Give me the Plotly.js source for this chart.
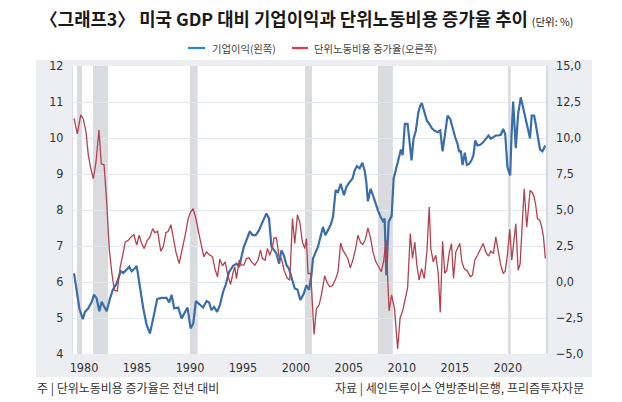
<!DOCTYPE html>
<html>
<head>
<meta charset="utf-8">
<script src="https://cdn.plot.ly/plotly-3.0.1.min.js"></script>
<style>
  html, body { margin: 0; padding: 0; background: #ffffff; }
  #chart { width: 622px; height: 402px; }
</style>
</head>
<body>
<div id="chart"></div>
<script>
// ---- Data ----
const profitYears = [1979.06,1979.31,1979.56,1979.88,1980.09,1980.41,1980.73,1980.94,1981.20,1981.44,1981.67,1981.91,1982.14,1982.45,1982.71,1983.08,1983.46,1983.70,1984.02,1984.27,1984.50,1984.74,1984.97,1985.28,1985.59,1985.91,1986.22,1986.53,1986.91,1987.32,1987.79,1988.04,1988.27,1988.51,1988.89,1989.21,1989.46,1989.77,1990.06,1990.31,1990.56,1990.93,1991.24,1991.56,1991.80,1992.03,1992.27,1992.56,1992.82,1993.13,1993.38,1993.69,1994.07,1994.39,1994.64,1994.86,1995.08,1995.33,1995.65,1995.90,1996.21,1996.52,1996.75,1996.99,1997.22,1997.46,1997.69,1997.94,1998.16,1998.41,1998.63,1998.85,1999.10,1999.35,1999.58,1999.89,2000.14,2000.42,2000.74,2000.99,2001.24,2001.46,2001.61,2001.87,2002.08,2002.31,2002.55,2002.78,2003.03,2003.28,2003.50,2003.75,2003.97,2004.22,2004.53,2004.76,2005.07,2005.33,2005.54,2005.76,2006.01,2006.27,2006.48,2006.64,2006.79,2007.05,2007.27,2007.52,2007.74,2007.99,2008.21,2008.37,2008.53,2008.75,2009.03,2009.22,2009.43,2009.76,2009.91,2010.07,2010.28,2010.54,2010.79,2010.91,2011.10,2011.32,2011.55,2011.73,2011.88,2012.11,2012.36,2012.58,2012.83,2013.05,2013.36,2013.62,2013.84,2014.05,2014.31,2014.56,2014.78,2015.03,2015.25,2015.41,2015.56,2015.72,2015.94,2016.13,2016.35,2016.57,2016.76,2016.92,2017.13,2017.39,2017.67,2017.92,2018.17,2018.39,2018.64,2018.86,2019.11,2019.33,2019.56,2019.75,2019.96,2020.22,2020.34,2020.50,2020.75,2020.97,2021.22,2021.47,2021.69,2021.94,2022.09,2022.25,2022.48,2022.63,2022.79,2023.04,2023.26,2023.42,2023.54];
const profitValues = [6.24,5.73,5.27,4.97,5.17,5.27,5.45,5.65,5.54,5.19,5.45,5.31,5.19,5.54,5.78,5.96,6.30,6.25,6.36,6.42,6.30,6.36,6.45,5.82,5.27,4.81,4.57,4.99,5.53,5.56,5.56,5.43,5.64,5.27,5.29,4.99,5.13,5.29,4.71,4.85,5.47,5.38,5.29,5.47,5.43,5.22,5.31,5.17,5.36,5.73,5.93,6.28,6.45,6.51,6.42,6.70,6.98,7.16,7.41,7.30,7.30,7.44,7.62,7.76,7.90,7.76,6.98,6.88,6.79,6.51,6.88,6.75,6.48,6.36,6.10,5.82,5.79,5.50,5.68,5.91,5.78,6.19,6.65,6.84,6.98,7.25,7.53,7.30,7.44,7.59,7.81,8.55,8.50,8.73,8.41,8.64,8.78,8.87,9.10,9.22,9.16,9.31,9.10,8.78,8.24,8.59,8.41,8.17,7.99,7.81,7.69,7.76,6.19,7.67,7.83,8.87,9.10,9.52,9.68,9.52,10.39,10.39,9.75,9.38,9.98,10.21,10.71,10.90,10.97,10.76,10.48,10.39,10.27,10.21,10.16,10.21,9.63,10.07,10.62,10.53,10.27,10.02,9.84,9.61,9.65,9.25,9.59,9.25,9.28,9.38,9.53,9.93,9.79,9.81,9.88,9.96,10.07,9.98,10.02,10.07,10.07,10.09,10.25,10.11,9.19,8.96,10.02,11.01,9.72,10.67,11.13,10.81,10.44,10.14,9.99,10.62,10.62,10.39,10.11,9.68,9.63,9.72,9.79];

const ulcYears = [1979.06,1979.37,1979.69,1979.93,1980.19,1980.41,1980.63,1980.88,1981.13,1981.41,1981.63,1981.89,1982.14,1982.38,1982.61,1982.86,1983.14,1983.39,1983.65,1983.89,1984.18,1984.43,1984.71,1984.97,1985.21,1985.44,1985.68,1985.97,1986.22,1986.48,1986.69,1986.95,1987.24,1987.48,1987.73,1987.95,1988.20,1988.42,1988.67,1988.98,1989.30,1989.61,1989.83,1990.06,1990.30,1990.56,1990.87,1991.09,1991.31,1991.56,1991.81,1992.13,1992.35,1992.60,1992.82,1993.07,1993.32,1993.57,1993.83,1994.07,1994.23,1994.39,1994.64,1994.86,1995.08,1995.33,1995.58,1995.81,1996.12,1996.43,1996.65,1996.84,1997.09,1997.31,1997.53,1997.79,1997.94,1998.16,1998.41,1998.63,1998.88,1999.16,1999.42,1999.67,1999.89,2000.14,2000.36,2000.61,2000.83,2000.99,2001.14,2001.40,2001.56,2001.71,2001.93,2002.18,2002.40,2002.71,2002.93,2003.19,2003.44,2003.75,2003.97,2004.22,2004.43,2004.69,2004.90,2005.13,2005.37,2005.63,2005.85,2006.10,2006.32,2006.57,2006.79,2007.02,2007.27,2007.52,2007.80,2008.05,2008.28,2008.51,2008.79,2009.03,2009.31,2009.60,2009.83,2010.07,2010.28,2010.54,2010.79,2011.00,2011.22,2011.41,2011.63,2011.86,2012.11,2012.36,2012.58,2012.73,2012.96,2013.20,2013.43,2013.62,2013.84,2014.05,2014.24,2014.47,2014.68,2014.87,2015.09,2015.25,2015.47,2015.66,2015.88,2016.19,2016.45,2016.66,2016.88,2017.13,2017.39,2017.67,2017.92,2018.17,2018.39,2018.64,2018.86,2019.11,2019.33,2019.56,2019.75,2019.96,2020.18,2020.37,2020.53,2020.75,2020.97,2021.16,2021.31,2021.54,2021.78,2021.94,2022.10,2022.32,2022.48,2022.63,2022.79,2023.01,2023.20,2023.36,2023.54];
const ulcValues = [11.37,10.28,11.60,11.32,10.40,8.79,7.91,7.17,8.32,10.56,8.21,8.14,5.55,2.32,0.71,-0.56,-0.63,0.93,1.86,2.78,2.90,3.13,3.29,2.56,3.25,2.67,2.32,2.90,3.13,3.71,3.43,3.52,2.14,2.44,3.43,3.52,3.98,3.01,2.09,1.28,2.32,3.48,4.40,4.86,5.09,4.40,3.25,2.56,1.75,2.09,1.90,1.75,0.93,0.36,1.59,1.12,1.40,0.48,-0.17,0.66,1.05,0.24,1.52,1.17,1.17,1.63,1.68,1.40,1.17,1.52,2.21,1.63,1.52,2.32,1.86,2.44,3.06,3.06,1.75,1.63,0.82,0.29,0.13,4.40,2.67,4.67,4.17,2.78,2.32,3.01,0.59,0.59,-1.37,-3.64,-1.84,-1.60,-0.91,0.43,-0.03,-0.33,-0.26,0.20,0.71,2.71,2.21,1.86,1.63,0.98,1.52,2.32,3.25,2.74,2.60,3.01,3.75,3.13,2.09,1.45,1.05,0.71,1.45,2.90,-2.00,-0.90,-1.90,-4.65,-2.50,-2.00,-1.30,-0.40,3.36,1.63,2.78,1.17,0.13,0.93,0.24,2.09,5.21,2.32,1.40,1.86,0.59,-2.11,2.83,0.59,0.82,2.04,2.67,0.24,2.09,2.32,2.67,1.40,0.93,0.75,0.36,0.48,1.52,1.86,2.21,2.67,2.09,1.79,2.14,1.97,3.13,2.04,1.17,0.59,0.75,1.90,3.66,1.52,2.67,4.05,0.82,1.28,3.36,6.47,3.82,5.21,6.36,6.20,5.90,5.33,4.40,4.29,3.82,3.13,1.63];

// Recession bands (grey shading) as drawn in the reference
const recessionStart = [1979.34, 1980.85, 1989.99, 2000.86, 2007.74, 2020.03];
const recessionEnd   = [1979.81, 1982.26, 1990.72, 2001.52, 2009.15, 2020.27];

// Axis ticks
const xTickValues = [1980, 1985, 1990, 1995, 2000, 2005, 2010, 2015, 2020];
const xTickLabels = ['1980', '1985', '1990', '1995', '2000', '2005', '2010', '2015', '2020'];

// Text
const titleMain = '〈그래프3〉 미국 GDP 대비 기업이익과 단위노동비용 증가율 추이';
const titleUnit = '(단위: %)';
const seriesNames = ['기업이익(왼쪽)', '단위노동비용 증가율(오른쪽)'];
const noteLeft = '주 | 단위노동비용 증가율은 전년 대비';
const noteRight = '자료 | 세인트루이스 연방준비은행, 프리즘투자자문';

// ---- Styling ----
const KFONT = "'Noto Sans CJK KR', 'Noto Sans', sans-serif";
const NFONT = "'Liberation Sans Narrow', 'DejaVu Sans Condensed', Roboto, 'Liberation Sans', sans-serif";
const BLUE = '#3a6ea8';
const RED = '#b3424f';

const W = 622, H = 402;
const M = {l: 73, r: 76, t: 66, b: 48};
const PW = W - M.l - M.r, PH = H - M.t - M.b;
const px = v => (v - M.l) / PW;          // pixel x -> paper x
const py = v => (H - M.b - v) / PH;       // pixel y -> paper y

const traces = [
  {x: profitYears, y: profitValues, type: 'scatter', mode: 'lines', name: seriesNames[0],
   line: {color: BLUE, width: 2.2}, yaxis: 'y', hoverinfo: 'skip'},
  {x: ulcYears, y: ulcValues, type: 'scatter', mode: 'lines', name: seriesNames[1],
   line: {color: RED, width: 1.3}, yaxis: 'y2', hoverinfo: 'skip'}
];

const shapes = [
  // grey panel behind the chart
  {type: 'rect', xref: 'paper', yref: 'paper', x0: px(36), x1: px(592), y0: py(377), y1: py(60),
   fillcolor: '#eceef1', line: {width: 0}, layer: 'below'},
  // white plot area
  {type: 'rect', xref: 'paper', yref: 'paper', x0: 0, x1: 1, y0: 0, y1: 1,
   fillcolor: '#ffffff', line: {width: 0}, layer: 'below'}
];
recessionStart.forEach((s, i) => {
  shapes.push({type: 'rect', xref: 'x', yref: 'paper', x0: s, x1: recessionEnd[i], y0: 0, y1: 1,
    fillcolor: '#d9dbdf', line: {width: 0}, layer: 'below'});
});
// custom legend line samples
shapes.push({type: 'line', xref: 'paper', yref: 'paper', x0: px(188), x1: px(205), y0: py(48), y1: py(48),
  line: {color: '#2f86cc', width: 2.2}});
shapes.push({type: 'line', xref: 'paper', yref: 'paper', x0: px(292), x1: px(308), y0: py(48), y1: py(48),
  line: {color: '#e03a52', width: 2.2}});

const annotations = [
  {xref: 'paper', yref: 'paper', x: px(210), y: py(48), xanchor: 'left', yanchor: 'middle', showarrow: false,
   text: seriesNames[0], font: {family: KFONT, size: 10.3, color: '#444'}},
  {xref: 'paper', yref: 'paper', x: px(312), y: py(48), xanchor: 'left', yanchor: 'middle', showarrow: false,
   text: seriesNames[1], font: {family: KFONT, size: 10.3, color: '#444'}},
  {xref: 'paper', yref: 'paper', x: px(35), y: py(388), xanchor: 'left', yanchor: 'middle', showarrow: false,
   text: noteLeft, font: {family: KFONT, size: 12, color: '#333'}},
  {xref: 'paper', yref: 'paper', x: px(586), y: py(388), xanchor: 'right', yanchor: 'middle', showarrow: false,
   text: noteRight, font: {family: KFONT, size: 12, color: '#333'}}
];

const tickFont = {family: NFONT, size: 12.5, color: '#333'};

const layout = {
  width: W, height: H,
  margin: {l: M.l, r: M.r, t: M.t, b: M.b, pad: 0},
  paper_bgcolor: '#ffffff',
  plot_bgcolor: 'rgba(0,0,0,0)',
  separators: ',.',
  showlegend: false,
  font: {family: KFONT, size: 12, color: '#333'},
  title: {
    text: '<b>' + titleMain + '</b> <span style="font-size:10.5px">' + titleUnit + '</span>',
    xref: 'container', yref: 'container', x: 40 / W, xanchor: 'left', y: 1 - 20 / H, yanchor: 'middle',
    font: {family: KFONT, size: 17.8, color: '#1a1a1a'}
  },
  xaxis: {
    type: 'linear', range: [1978.96, 2023.6],
    tickmode: 'array', tickvals: xTickValues, ticktext: xTickLabels,
    showgrid: false, zeroline: false, showline: false, ticks: '',
    ticklabelstandoff: 4, tickfont: tickFont, fixedrange: true
  },
  yaxis: {
    range: [4, 12], tick0: 4, dtick: 1,
    gridcolor: '#e3e6ea', gridwidth: 1, zeroline: false,
    showline: true, linecolor: '#dde1e6', linewidth: 1,
    ticks: '', ticklabelstandoff: 6, tickfont: tickFont, fixedrange: true
  },
  yaxis2: {
    overlaying: 'y', side: 'right', range: [-5, 15], tick0: -5, dtick: 2.5, tickformat: '.1f',
    showgrid: false, zeroline: false, showline: true, linecolor: '#d3dbe4', linewidth: 1.5,
    ticks: '', ticklabelstandoff: 6, tickfont: tickFont, fixedrange: true
  },
  shapes: shapes,
  annotations: annotations
};

Plotly.newPlot('chart', traces, layout, {staticPlot: true, displayModeBar: false});
</script>
</body>
</html>
